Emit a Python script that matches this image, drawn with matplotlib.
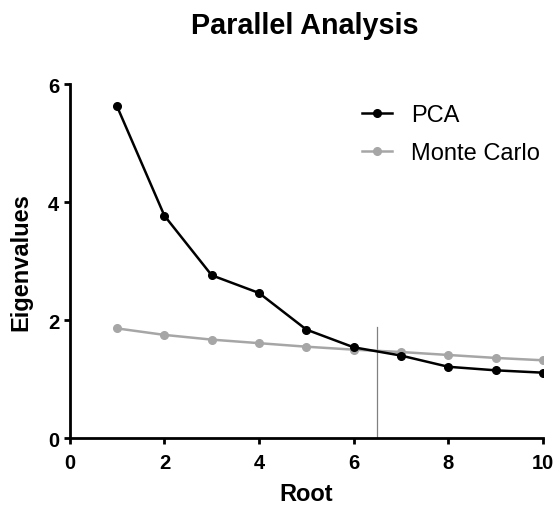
import matplotlib
matplotlib.use("Agg")
import matplotlib.pyplot as plt

plt.rcParams['font.family'] = ['Liberation Sans', 'DejaVu Sans']

roots = [1, 2, 3, 4, 5, 6, 7, 8, 9, 10]
pca = [5.62, 3.77, 2.76, 2.46, 1.84, 1.54, 1.40, 1.21, 1.15, 1.11]
monte_carlo = [1.86, 1.75, 1.67, 1.61, 1.55, 1.50, 1.46, 1.41, 1.36, 1.32]
cutoff_x = 6.5
cutoff_top = 1.88

fig = plt.figure(figsize=(5.58, 5.06), dpi=100)
ax = fig.add_axes([0.125, 0.132, 0.848, 0.700])

ax.plot(roots, monte_carlo, color='#a6a6a6', lw=1.8, marker='o', ms=5.5, label='Monte Carlo', zorder=2)
ax.plot(roots, pca, color='black', lw=1.8, marker='o', ms=5.5, label='PCA', zorder=3)
ax.plot([cutoff_x, cutoff_x], [0, cutoff_top], color='#808080', lw=0.9, zorder=1)

ax.set_xlim(0, 10)
ax.set_ylim(0, 6)
ax.set_xticks([0, 2, 4, 6, 8, 10])
ax.set_yticks([0, 2, 4, 6])
for s in ['top', 'right']:
    ax.spines[s].set_visible(False)
for s in ['left', 'bottom']:
    ax.spines[s].set_linewidth(2)
ax.tick_params(direction='out', length=4.5, width=2, labelsize=14.5)
ax.tick_params(axis='x', pad=6.5)
ax.tick_params(axis='y', pad=3)
for lab in ax.get_xticklabels() + ax.get_yticklabels():
    lab.set_fontweight('bold')
ax.set_xlabel('Root', fontsize=17, fontweight='bold', labelpad=7)
ax.set_ylabel('Eigenvalues', fontsize=17, fontweight='bold')
ax.yaxis.set_label_coords(-0.078, 0.5)
fig.text(0.547, 0.933, 'Parallel Analysis', fontsize=20.7, fontweight='bold',
         ha='center', va='baseline')

handles, labels = ax.get_legend_handles_labels()
ax.legend(handles[::-1], labels[::-1], loc='upper left', bbox_to_anchor=(0.617, 0.943),
          frameon=False, fontsize=17, handlelength=1.3, handletextpad=0.8,
          labelspacing=0.68, borderpad=0, borderaxespad=0)

fig.savefig('out.png', dpi=100)
